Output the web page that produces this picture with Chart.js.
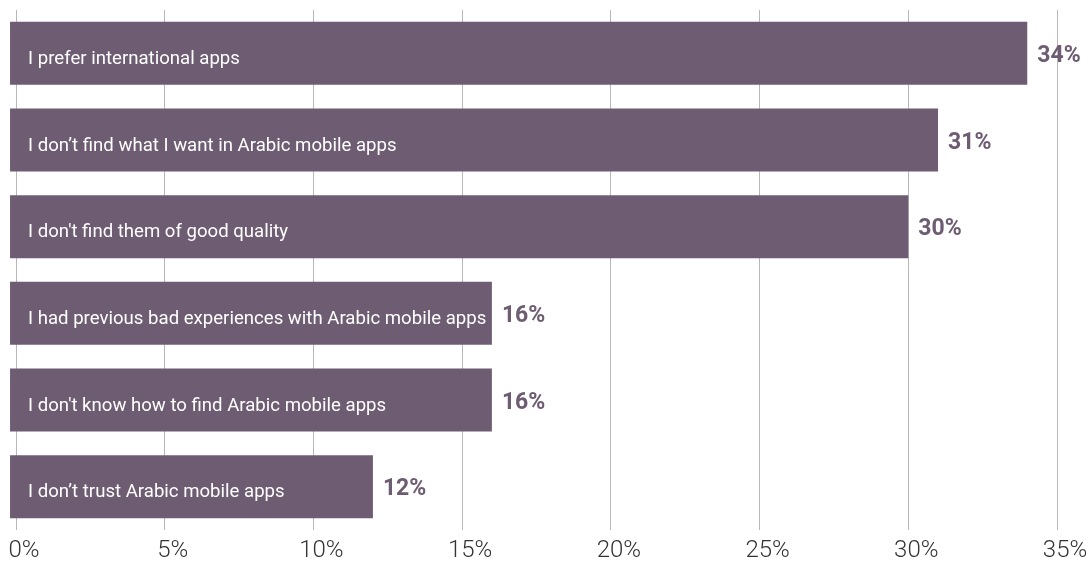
<!DOCTYPE html>
<html>
<head>
<meta charset="utf-8">
<script src="https://cdn.jsdelivr.net/npm/chart.js@4.4.1/dist/chart.umd.min.js"></script>
<style>
  html, body { margin: 0; padding: 0; background: #fff; }
  #wrap { width: 1092px; height: 564px; position: relative; }
</style>
</head>
<body>
<div id="wrap"><canvas id="reasons"></canvas></div>
<script>
const reasons = [
    'I prefer international apps',
    'I don\u2019t find what I want in Arabic mobile apps',
    'I don\'t find them of good quality',
    'I had previous bad experiences with Arabic mobile apps',
    'I don\'t know how to find Arabic mobile apps',
    'I don\u2019t trust Arabic mobile apps'
];
const shares = [34, 31, 30, 16, 16, 12];

const barColor = '#6e5c72';
const fontName = 'Roboto, "Noto Sans", sans-serif';

// writes the reason inside each bar and the share just past its end
const barText = {
    id: 'barText',
    afterDatasetsDraw(chart) {
        const ctx = chart.ctx;
        const bars = chart.getDatasetMeta(0).data;
        ctx.save();
        ctx.textBaseline = 'middle';
        ctx.textAlign = 'left';
        bars.forEach((bar, i) => {
            ctx.fillStyle = '#ffffff';
            ctx.font = '18.6px ' + fontName;
            ctx.fillText(reasons[i], bar.base + 18, bar.y + 6);

            ctx.fillStyle = barColor;
            ctx.font = 'bold 23px ' + fontName;
            ctx.fillText(shares[i] + '%', bar.x + 10, bar.y + 3);
        });
        ctx.restore();
    }
};

const ctx = document.getElementById('reasons').getContext('2d');
const reasonsChart = new Chart(ctx, {
    type: 'bar',
    data: {
        labels: reasons,
        datasets: [{
            data: shares,
            base: -0.2,
            clip: false,
            backgroundColor: barColor,
            borderWidth: 0,
            barPercentage: 0.727,
            categoryPercentage: 1
        }]
    },
    options: {
        indexAxis: 'y',
        responsive: true,
        maintainAspectRatio: false,
        animation: false,
        layout: {
            padding: { left: 16, right: 35, top: 10, bottom: 0 }
        },
        plugins: {
            legend: { display: false },
            tooltip: { enabled: false }
        },
        scales: {
            y: {
                display: false
            },
            x: {
                min: 0,
                max: 35,
                border: { display: false },
                grid: {
                    color: '#b8b8b8',
                    lineWidth: 1,
                    drawTicks: false
                },
                ticks: {
                    stepSize: 5,
                    padding: 7,
                    labelOffset: 8,
                    color: '#333333',
                    font: { family: fontName, size: 24, weight: '300' },
                    callback: (v) => v + '%'
                },
                afterFit(scale) {
                    // fixed axis band, and no extra room for the end labels
                    scale.height = 34;
                    scale.paddingLeft = 0;
                    scale.paddingRight = 0;
                }
            }
        }
    },
    plugins: [barText]
});
</script>
</body>
</html>
